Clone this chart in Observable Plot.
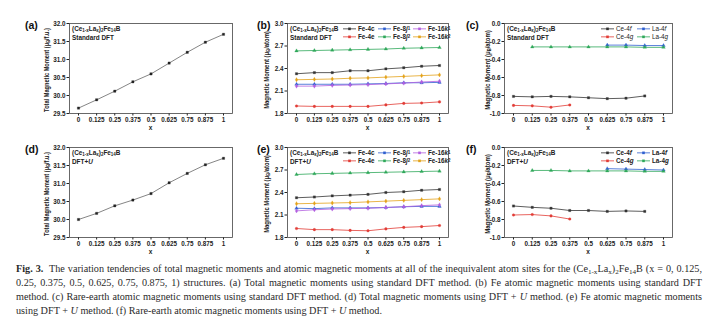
<!DOCTYPE html>
<html><head><meta charset="utf-8">
<script src="https://cdn.jsdelivr.net/npm/d3@7"></script>
<script src="https://cdn.jsdelivr.net/npm/@observablehq/plot@0.6"></script>
<style>
body{margin:0;background:#fff;}
#fig{position:relative;width:706px;height:328px;overflow:hidden;font-family:"Liberation Sans",Arial,sans-serif;color:#222;}
.abs{position:absolute;white-space:nowrap;line-height:1;}
.plab{font-weight:bold;font-size:10.5px;color:#111;transform:translateY(-50%);}
.ann{font-weight:bold;font-size:6.4px;color:#222;transform:translateY(-50%);}
.ylab{font-weight:bold;font-size:6.5px;color:#222;}
.xlab{font-weight:bold;font-size:6.5px;color:#222;transform:translate(-50%,-50%);}
.leg{font-size:6.3px;color:#222;display:flex;align-items:center;transform:translateY(-50%);}
.leg svg{margin-right:2px;overflow:visible;}
.cap{position:absolute;left:16px;width:686px;font-family:"Liberation Serif","Times New Roman",serif;font-size:10.2px;color:#2a2a2a;white-space:nowrap;line-height:14px;}
.just{text-align:justify;text-align-last:justify;}
sub{font-size:70%;vertical-align:-0.25em;line-height:0;}
</style></head><body><div id="fig"></div>
<script>
// ---------- data ----------
const xs = [0, 0.125, 0.25, 0.375, 0.5, 0.625, 0.75, 0.875, 1];
const xTickLabels = ["0", "0.125", "0.25", "0.375", "0.5", "0.625", "0.75", "0.875", "1"];

const totalStd = [29.65, 29.88, 30.12, 30.38, 30.60, 30.90, 31.20, 31.48, 31.70];
const totalU   = [30.00, 30.17, 30.38, 30.54, 30.72, 31.02, 31.28, 31.52, 31.70];

const fe4cStd  = [2.33, 2.345, 2.345, 2.37, 2.37, 2.395, 2.41, 2.43, 2.44];
const fe4eStd  = [1.90, 1.895, 1.895, 1.895, 1.895, 1.915, 1.935, 1.94, 1.955];
const fe8j1Std = [2.19, 2.19, 2.19, 2.19, 2.195, 2.20, 2.21, 2.21, 2.215];
const fe8j2Std = [2.635, 2.64, 2.645, 2.65, 2.655, 2.66, 2.67, 2.675, 2.68];
const fe16k1Std= [2.165, 2.165, 2.175, 2.18, 2.185, 2.195, 2.205, 2.22, 2.23];
const fe16k2Std= [2.25, 2.255, 2.26, 2.27, 2.275, 2.285, 2.295, 2.305, 2.315];

const fe4cU  = [2.33, 2.34, 2.355, 2.365, 2.375, 2.40, 2.41, 2.43, 2.44];
const fe4eU  = [1.92, 1.905, 1.905, 1.895, 1.89, 1.915, 1.935, 1.945, 1.96];
const fe8j1U = [2.19, 2.185, 2.195, 2.195, 2.195, 2.20, 2.21, 2.215, 2.215];
const fe8j2U = [2.64, 2.65, 2.655, 2.66, 2.665, 2.67, 2.675, 2.68, 2.685];
const fe16k1U= [2.155, 2.17, 2.18, 2.185, 2.19, 2.20, 2.21, 2.225, 2.235];
const fe16k2U= [2.25, 2.255, 2.26, 2.265, 2.275, 2.285, 2.295, 2.305, 2.315];

const ce4fXs = [0, 0.125, 0.25, 0.375, 0.5, 0.625, 0.75, 0.875];
const ce4gXs = [0, 0.125, 0.25, 0.375];
const la4fXs = [0.625, 0.75, 0.875, 1];
const la4gXs = [0.125, 0.25, 0.375, 0.5, 0.625, 0.75, 0.875, 1];

const ce4fStd = [-0.81, -0.815, -0.81, -0.815, -0.825, -0.835, -0.83, -0.805];
const ce4gStd = [-0.91, -0.915, -0.93, -0.905];
const la4fStd = [-0.24, -0.24, -0.245, -0.245];
const la4gStd = [-0.26, -0.26, -0.26, -0.26, -0.26, -0.26, -0.265, -0.265];

const ce4fU = [-0.65, -0.665, -0.675, -0.70, -0.70, -0.71, -0.705, -0.71];
const ce4gU = [-0.75, -0.745, -0.76, -0.795];
const la4fU = [-0.235, -0.24, -0.245, -0.25];
const la4gU = [-0.255, -0.255, -0.26, -0.26, -0.26, -0.26, -0.265, -0.265];

const totalTicks = [29.5, 30.0, 30.5, 31.0, 31.5, 32.0];
const feTicks = [1.8, 2.1, 2.4, 2.7, 3.0];
const reTicks = [0.0, -0.2, -0.4, -0.6, -0.8, -1.0];

// ---------- styles ----------
const C = {black:"#333333", red:"#e23c36", blue:"#2f5fd0", green:"#2ea85a", purple:"#b25ee0", orange:"#e3a21a"};

const fig = document.getElementById("fig");
function el(cls, html, left, top) {
  const d = document.createElement("div");
  d.className = "abs " + cls;
  d.innerHTML = html;
  d.style.left = left + "px"; d.style.top = top + "px";
  fig.appendChild(d);
  return d;
}
function series(name, x, y, color, symbol) {
  return {name, color, symbol, data: x.map((v, i) => ({x: v, y: y[i]}))};
}

const mL = 34, mR = 4, mT = 4, mB = 22;
function panel({fx, fy, fw, fh, yDomain, yTicks, list, line}) {
  const marks = [Plot.frame({stroke: "#444", strokeWidth: 0.8})];
  for (const s of list) {
    marks.push(Plot.line(s.data, {x: "x", y: "y", stroke: line || s.color, strokeWidth: 0.8}));
    marks.push(Plot.dot(s.data, {x: "x", y: "y", fill: s.color, stroke: s.color, strokeWidth: 0.3, r: 1.3, symbol: s.symbol}));
  }
  const svg = Plot.plot({
    width: mL + fw + mR, height: mT + fh + mB,
    marginLeft: mL, marginRight: mR, marginTop: mT, marginBottom: mB,
    style: {fontFamily: "Liberation Sans, Arial, sans-serif", fontSize: "6.3px", fontWeight: "bold", color: "#222", background: "transparent", overflow: "visible"},
    x: {domain: [0, 1], inset: 9, ticks: xs, tickFormat: d => xTickLabels[xs.indexOf(d)], tickSize: 2.5, tickPadding: 1.5, label: null},
    y: {domain: yDomain, ticks: yTicks, tickFormat: d => d.toFixed(1), tickSize: 2.5, tickPadding: 1.5, label: null},
    marks
  });
  svg.style.position = "absolute";
  svg.style.left = (fx - mL) + "px";
  svg.style.top = (fy - mT) + "px";
  fig.appendChild(svg);
  el("xlab", "x", fx + fw / 2, fy + fh + 15);
}
function ylabel(html, cx, cy, len) {
  const d = el("ylab", html, cx, cy);
  const w = d.offsetWidth;
  d.style.transform = `translate(-50%,-50%) rotate(-90deg) scaleX(${len / w})`;
}
function legend(entries, positions, bold) {
  entries.forEach((e, i) => {
    const [lx, ly] = positions[i];
    const sw = `<svg width="13" height="6"><line x1="0" y1="3" x2="13" y2="3" stroke="${e.color}" stroke-width="0.8"/><rect x="5.2" y="1.7" width="2.6" height="2.6" fill="${e.color}"/></svg>`;
    const d = el("leg", sw + e.label, lx, ly);
    if (bold) d.style.fontWeight = "bold";
  });
}
const formula = "(Ce<sub>1-x</sub>La<sub>x</sub>)<sub>2</sub>Fe<sub>14</sub>B";

// frames
const R1 = 23, R2 = 147, H = 90;
const CA = 69, WA = 163, CB = 287, WB = 161, CC = 504, WC = 168;

const feStd = [
  series("Fe-4c", xs, fe4cStd, C.black, "square"),
  series("Fe-4e", xs, fe4eStd, C.red, "circle"),
  series("Fe-8j1", xs, fe8j1Std, C.blue, "triangle"),
  series("Fe-8j2", xs, fe8j2Std, C.green, "triangle"),
  series("Fe-16k1", xs, fe16k1Std, C.purple, "diamond"),
  series("Fe-16k2", xs, fe16k2Std, C.orange, "diamond")
];
const feU = [
  series("Fe-4c", xs, fe4cU, C.black, "square"),
  series("Fe-4e", xs, fe4eU, C.red, "circle"),
  series("Fe-8j1", xs, fe8j1U, C.blue, "triangle"),
  series("Fe-8j2", xs, fe8j2U, C.green, "triangle"),
  series("Fe-16k1", xs, fe16k1U, C.purple, "diamond"),
  series("Fe-16k2", xs, fe16k2U, C.orange, "diamond")
];
const reStd = [
  series("Ce-4f", ce4fXs, ce4fStd, C.black, "square"),
  series("Ce-4g", ce4gXs, ce4gStd, C.red, "circle"),
  series("La-4f", la4fXs, la4fStd, C.blue, "triangle"),
  series("La-4g", la4gXs, la4gStd, C.green, "triangle")
];
const reU = [
  series("Ce-4f", ce4fXs, ce4fU, C.black, "square"),
  series("Ce-4g", ce4gXs, ce4gU, C.red, "circle"),
  series("La-4f", la4fXs, la4fU, C.blue, "triangle"),
  series("La-4g", la4gXs, la4gU, C.green, "triangle")
];

panel({fx: CA, fy: R1, fw: WA, fh: H, yDomain: [29.5, 32], yTicks: totalTicks, list: [series("total", xs, totalStd, "#222", "square")], line: "#666"});
panel({fx: CB, fy: R1, fw: WB, fh: H, yDomain: [1.8, 3.0], yTicks: feTicks, list: feStd});
panel({fx: CC, fy: R1, fw: WC, fh: H, yDomain: [-1.0, 0.0], yTicks: reTicks, list: reStd});
panel({fx: CA, fy: R2, fw: WA, fh: H, yDomain: [29.5, 32], yTicks: totalTicks, list: [series("total", xs, totalU, "#222", "square")], line: "#666"});
panel({fx: CB, fy: R2, fw: WB, fh: H, yDomain: [1.8, 3.0], yTicks: feTicks, list: feU});
panel({fx: CC, fy: R2, fw: WC, fh: H, yDomain: [-1.0, 0.0], yTicks: reTicks, list: reU});

// panel letters
el("plab", "(a)", 25, 25); el("plab", "(b)", 257, 25); el("plab", "(c)", 466, 25);
el("plab", "(d)", 25, 149); el("plab", "(e)", 257, 149); el("plab", "(f)", 466, 149);

// annotations
for (const [cx, r, m] of [[CA, R1, "Standard DFT"], [CB, R1, "Standard DFT"], [CC, R1, "Standard DFT"],
                          [CA, R2, "DFT+<i>U</i>"], [CB, R2, "DFT+<i>U</i>"], [CC, R2, "DFT+<i>U</i>"]]) {
  el("ann", formula, cx + 3, r + 6);
  el("ann", m, cx + 3, r + 15);
}

// y labels
const muB = "(μ<sub>B</sub>/";
ylabel("Total Magnetic Moment " + muB + "f.u.)", 47, R1 + H / 2 + 2, 84);
ylabel("Magnetic Moment " + muB + "atom)", 267, R1 + H / 2 + 2, 78);
ylabel("Magnetic Moment " + muB + "atom)", 488, R1 + H / 2 + 2, 80);
ylabel("Total Magnetic Moment " + muB + "f.u.)", 47, R2 + H / 2 + 2, 84);
ylabel("Magnetic Moment " + muB + "atom)", 267, R2 + H / 2 + 2, 78);
ylabel("Magnetic Moment " + muB + "atom)", 488, R2 + H / 2 + 2, 80);

// legends
const feLegend = [
  {label: "Fe-4c", color: C.black}, {label: "Fe-8<i>j</i><sub>1</sub>", color: C.blue}, {label: "Fe-16<i>k</i><sub>1</sub>", color: C.purple},
  {label: "Fe-4e", color: C.red}, {label: "Fe-8<i>j</i><sub>2</sub>", color: C.green}, {label: "Fe-16<i>k</i><sub>2</sub>", color: C.orange}
];
const reLegend = [
  {label: "Ce-4<i>f</i>", color: C.black}, {label: "La-4<i>f</i>", color: C.blue},
  {label: "Ce-4<i>g</i>", color: C.red}, {label: "La-4<i>g</i>", color: C.green}
];
const fePos = r => [[343, r + 6], [378, r + 6], [413, r + 6], [343, r + 14], [378, r + 14], [413, r + 14]];
const rePos = r => [[601, r + 6], [637, r + 6], [601, r + 14], [637, r + 14]];
legend(feLegend, fePos(R1), true);
legend(reLegend, rePos(R1), false);
legend(feLegend, fePos(R2), true);
legend(reLegend, rePos(R2), true);

// caption
const capLines = [
  ["just", "<b>Fig. 3.</b>&nbsp; The variation tendencies of total magnetic moments and atomic magnetic moments at all of the inequivalent atom sites for the (Ce<sub>1-x</sub>La<sub>x</sub>)<sub>2</sub>Fe<sub>14</sub>B (x = 0, 0.125,"],
  ["just", "0.25, 0.375, 0.5, 0.625, 0.75, 0.875, 1) structures. (a) Total magnetic moments using standard DFT method. (b) Fe atomic magnetic moments using standard DFT"],
  ["just", "method. (c) Rare-earth atomic magnetic moments using standard DFT method. (d) Total magnetic moments using DFT + <i>U</i> method. (e) Fe atomic magnetic moments"],
  ["", "using DFT + <i>U</i> method. (f) Rare-earth atomic magnetic moments using DFT + <i>U</i> method."]
];
capLines.forEach(([cls, html], i) => {
  const d = document.createElement("div");
  d.className = "cap " + cls;
  d.innerHTML = html;
  d.style.top = (262 + i * 14) + "px";
  fig.appendChild(d);
});
</script></body></html>
